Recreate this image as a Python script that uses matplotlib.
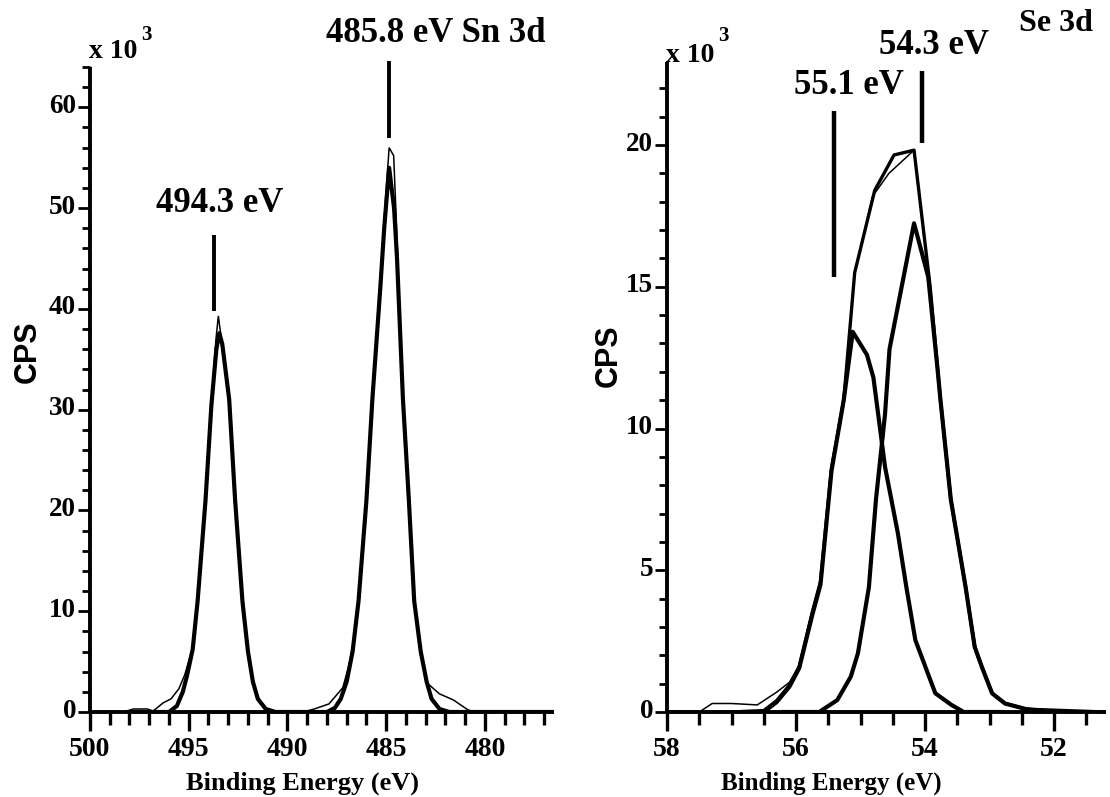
import matplotlib
matplotlib.use("Agg")
import matplotlib.pyplot as plt
from matplotlib.ticker import MultipleLocator
from matplotlib.transforms import ScaledTranslation

plt.rcParams['font.family'] = ['Liberation Serif', 'DejaVu Serif']
plt.rcParams['font.weight'] = 'bold'

# ---------------- Sn 3d spectrum (counts in units of 10^3 CPS) ----------------
sn_fit_be = [498.0, 496.0, 495.6, 495.3, 495.1, 494.8, 494.55, 494.15, 493.85, 493.6,
             493.45, 493.3, 492.95, 492.65, 492.28, 492.0, 491.75, 491.5, 491.1, 490.6,
             489.0, 488.0, 487.6, 487.3, 487.0, 486.7, 486.4, 486.0, 485.7, 485.3,
             485.1, 484.85, 484.6, 484.45, 484.15, 483.85, 483.58, 483.25, 482.95, 482.7,
             482.3, 481.8, 476.5]
sn_fit_cps = [0.0, 0.0, 0.6, 2.0, 3.5, 6.2, 11.0, 21.0, 30.5, 36.0,
              37.6, 36.5, 31.0, 21.0, 11.0, 6.0, 3.0, 1.3, 0.3, 0.0,
              0.0, 0.0, 0.4, 1.3, 3.0, 6.0, 11.0, 21.0, 31.0, 42.0,
              48.0, 54.0, 50.0, 45.0, 31.0, 21.0, 11.0, 6.0, 3.0, 1.3,
              0.3, 0.0, 0.0]

sn_raw_be = [498.3, 497.8, 497.1, 496.8, 496.3, 495.9, 495.5, 495.2, 494.8, 494.55,
             494.15, 493.85, 493.62, 493.5, 493.36, 493.0, 492.65, 492.28, 492.0, 491.75,
             491.5, 491.1, 490.6, 489.2, 488.64, 487.9, 487.2, 486.9, 486.7, 486.4,
             486.0, 485.7, 485.3, 485.1, 484.85, 484.62, 484.45, 484.15, 483.85, 483.58,
             483.25, 482.94, 482.3, 481.6, 480.85, 480.5, 476.5]
sn_raw_cps = [0.0, 0.3, 0.3, 0.1, 0.9, 1.3, 2.3, 3.7, 6.4, 11.0,
              21.0, 31.0, 37.0, 39.3, 37.2, 31.5, 21.0, 11.0, 6.0, 3.0,
              1.3, 0.3, 0.0, 0.0, 0.3, 0.8, 2.4, 4.5, 6.5, 11.0,
              21.0, 31.0, 43.0, 49.0, 56.0, 55.2, 47.0, 31.0, 21.0, 11.0,
              6.2, 2.9, 1.8, 1.2, 0.2, 0.0, 0.0]

sn_marker_be = [493.74, 484.84]
sn_marker_lo = [39.8, 57.0]
sn_marker_hi = [47.3, 64.6]
sn_labels = ["494.3 eV", "485.8 eV"]
sn_title = "Sn 3d"
sn_xticks = [500, 495, 490, 485, 480]
sn_yticks = [0, 10, 20, 30, 40, 50, 60]

# ---------------- Se 3d spectrum (counts in units of 10^3 CPS) ----------------
se_env_be = [58.0, 57.0, 56.5, 56.3, 56.1, 55.95, 55.75, 55.62, 55.45, 55.26,
             55.09, 54.78, 54.48, 54.17, 53.92, 53.76, 53.6, 53.37, 53.23, 53.12,
             52.96, 52.76, 52.43, 51.2]
se_env_cps = [0.0, 0.0, 0.05, 0.4, 0.95, 1.6, 3.5, 4.6, 8.6, 11.0,
              15.5, 18.4, 19.65, 19.82, 15.0, 11.0, 7.5, 4.4, 2.3, 1.6,
              0.66, 0.3, 0.1, 0.0]

se_raw_be = [58.0, 57.5, 57.3, 57.0, 56.6, 56.3, 56.1, 55.95, 55.75, 55.62,
             55.45, 55.26, 55.09, 54.81, 54.56, 54.17, 53.92, 53.76, 53.6, 53.37,
             53.2, 53.1, 52.96, 52.76, 52.43, 51.2]
se_raw_cps = [0.0, 0.0, 0.3, 0.3, 0.25, 0.7, 1.05, 1.65, 3.5, 4.6,
              8.6, 11.0, 15.5, 18.2, 19.0, 19.82, 15.0, 11.0, 7.5, 4.4,
              2.1, 1.5, 0.66, 0.3, 0.1, 0.0]

se_c1_be = [56.2, 55.64, 55.36, 55.15, 55.04, 54.87, 54.76, 54.62, 54.55, 54.17,
            53.95, 53.81, 53.76, 53.6, 53.37, 53.23, 53.12, 52.96, 52.76, 52.43, 52.0]
se_c1_cps = [0.0, 0.0, 0.42, 1.25, 2.07, 4.4, 7.5, 10.5, 12.8, 17.24,
             15.35, 12.2, 11.0, 7.5, 4.4, 2.3, 1.6, 0.66, 0.3, 0.1, 0.0]

se_c2_be = [56.8, 56.5, 56.3, 56.1, 55.95, 55.75, 55.62, 55.45, 55.26, 55.12,
            54.9, 54.8, 54.62, 54.42, 54.29, 54.15, 53.84, 53.59, 53.4, 52.8]
se_c2_cps = [0.0, 0.0, 0.35, 0.9, 1.55, 3.4, 4.5, 8.5, 11.0, 13.41,
             12.6, 11.8, 8.65, 6.3, 4.42, 2.54, 0.66, 0.25, 0.0, 0.0]

se_marker_be = [55.41, 54.05]
se_marker_lo = [15.35, 20.06]
se_marker_hi = [21.2, 22.6]
se_labels = ["55.1 eV", "54.3 eV"]
se_title = "Se 3d"
se_xticks = [58, 56, 54, 52]
se_yticks = [0, 5, 10, 15, 20]

W, H = 1110, 797
fig = plt.figure(figsize=(W / 100, H / 100), dpi=100)
fig.patch.set_facecolor('white')

ax1 = fig.add_axes([90 / W, 85 / H, 464 / W, 645 / H])
ax2 = fig.add_axes([667 / W, 85 / H, 438.6 / W, 650 / H])

THICK = 3.0
THIN = 1.1


def style_axes(ax, xmin, ymin, xticks, yticks):
    for side in ('top', 'right'):
        ax.spines[side].set_visible(False)
    for side in ('left', 'bottom'):
        ax.spines[side].set_linewidth(2.8)
        ax.spines[side].set_capstyle('butt')
    ax.set_xticks(xticks)
    ax.set_yticks(yticks)
    ax.xaxis.set_minor_locator(MultipleLocator(xmin))
    ax.yaxis.set_minor_locator(MultipleLocator(ymin))
    ax.tick_params(axis='x', which='major', direction='out', length=14, width=2.4,
                   pad=4, labelsize=20)
    ax.tick_params(axis='x', which='minor', direction='out', length=9, width=2.4)
    ax.tick_params(axis='y', which='major', direction='out', length=9, width=2.0,
                   pad=1, labelsize=19.5)
    ax.tick_params(axis='y', which='minor', direction='out', length=5.5, width=2.0)
    shift = ScaledTranslation(0, 4 / 100, fig.dpi_scale_trans)
    for lab in ax.get_yticklabels():
        lab.set_transform(lab.get_transform() + shift)
        lab.set_fontweight('bold')
    for lab in ax.get_xticklabels():
        lab.set_fontweight('bold')


def scale_note(ax, dy_main, dy_exp):
    # "x 10^3" multiplier placed at the top of the y axis
    ax.annotate("x 10", xy=(0, 1), xycoords='axes fraction', xytext=(-0.7, dy_main),
                textcoords='offset points', fontsize=20, fontweight='bold',
                ha='left', va='center')
    ax.annotate("3", xy=(0, 1), xycoords='axes fraction', xytext=(37, dy_exp),
                textcoords='offset points', fontsize=15, fontweight='bold',
                ha='left', va='center')


# ---- Sn 3d panel ----
ax1.plot(sn_raw_be, sn_raw_cps, color='black', lw=THIN, solid_joinstyle='miter')
ax1.plot(sn_fit_be, sn_fit_cps, color='black', lw=THICK, solid_joinstyle='round')
ax1.set_xlim(500, 476.5)
ax1.set_ylim(0, 64)
style_axes(ax1, 1, 2, sn_xticks, sn_yticks)
ax1.vlines(sn_marker_be, sn_marker_lo, sn_marker_hi, color='black', lw=2.8, clip_on=False)
ax1.text(493.41, 50.5, sn_labels[0], fontsize=25, fontweight='bold',
         ha='center', va='center', clip_on=False)
ax1.text(482.47, 67.3, sn_labels[1] + " " + sn_title, fontsize=25, fontweight='bold',
         ha='center', va='center', clip_on=False)
ax1.set_xlabel("Binding Energy (eV)", fontsize=19, fontweight='bold')
ax1.xaxis.label.set_va('center')
ax1.xaxis.set_label_coords(0.459, -0.110)
scale_note(ax1, 11.5, 23)

# ---- Se 3d panel ----
ax2.plot(se_raw_be, se_raw_cps, color='black', lw=THIN)
ax2.plot(se_env_be, se_env_cps, color='black', lw=THICK * 0.8)
ax2.plot(se_c1_be, se_c1_cps, color='black', lw=THICK)
ax2.plot(se_c2_be, se_c2_cps, color='black', lw=THICK)
ax2.set_xlim(58, 51.2)
ax2.set_ylim(0, 22.93)
style_axes(ax2, 0.5, 1, se_xticks, se_yticks)
ax2.vlines(se_marker_be, se_marker_lo, se_marker_hi, color='black', lw=3.2, clip_on=False)
ax2.text(55.18, 22.1, se_labels[0], fontsize=25, fontweight='bold',
         ha='center', va='center', clip_on=False)
ax2.text(53.86, 23.5, se_labels[1], fontsize=25, fontweight='bold',
         ha='center', va='center', clip_on=False)
ax2.text(51.97, 24.3, se_title, fontsize=23, fontweight='bold',
         ha='center', va='center', clip_on=False)
ax2.set_xlabel("Binding Energy (eV)", fontsize=18, fontweight='bold')
ax2.xaxis.label.set_va('center')
ax2.xaxis.set_label_coords(0.374, -0.109)
scale_note(ax2, 5, 19)

# y-axis titles
fig.text(28 / W, 1 - 352 / H, "CPS", rotation=90, fontsize=22, fontweight='bold',
         family=['Liberation Sans', 'DejaVu Sans'], ha='center', va='center')
fig.text(609 / W, 1 - 356 / H, "CPS", rotation=90, fontsize=22, fontweight='bold',
         family=['Liberation Sans', 'DejaVu Sans'], ha='center', va='center')

fig.savefig("out.png", dpi=100, facecolor='white')
